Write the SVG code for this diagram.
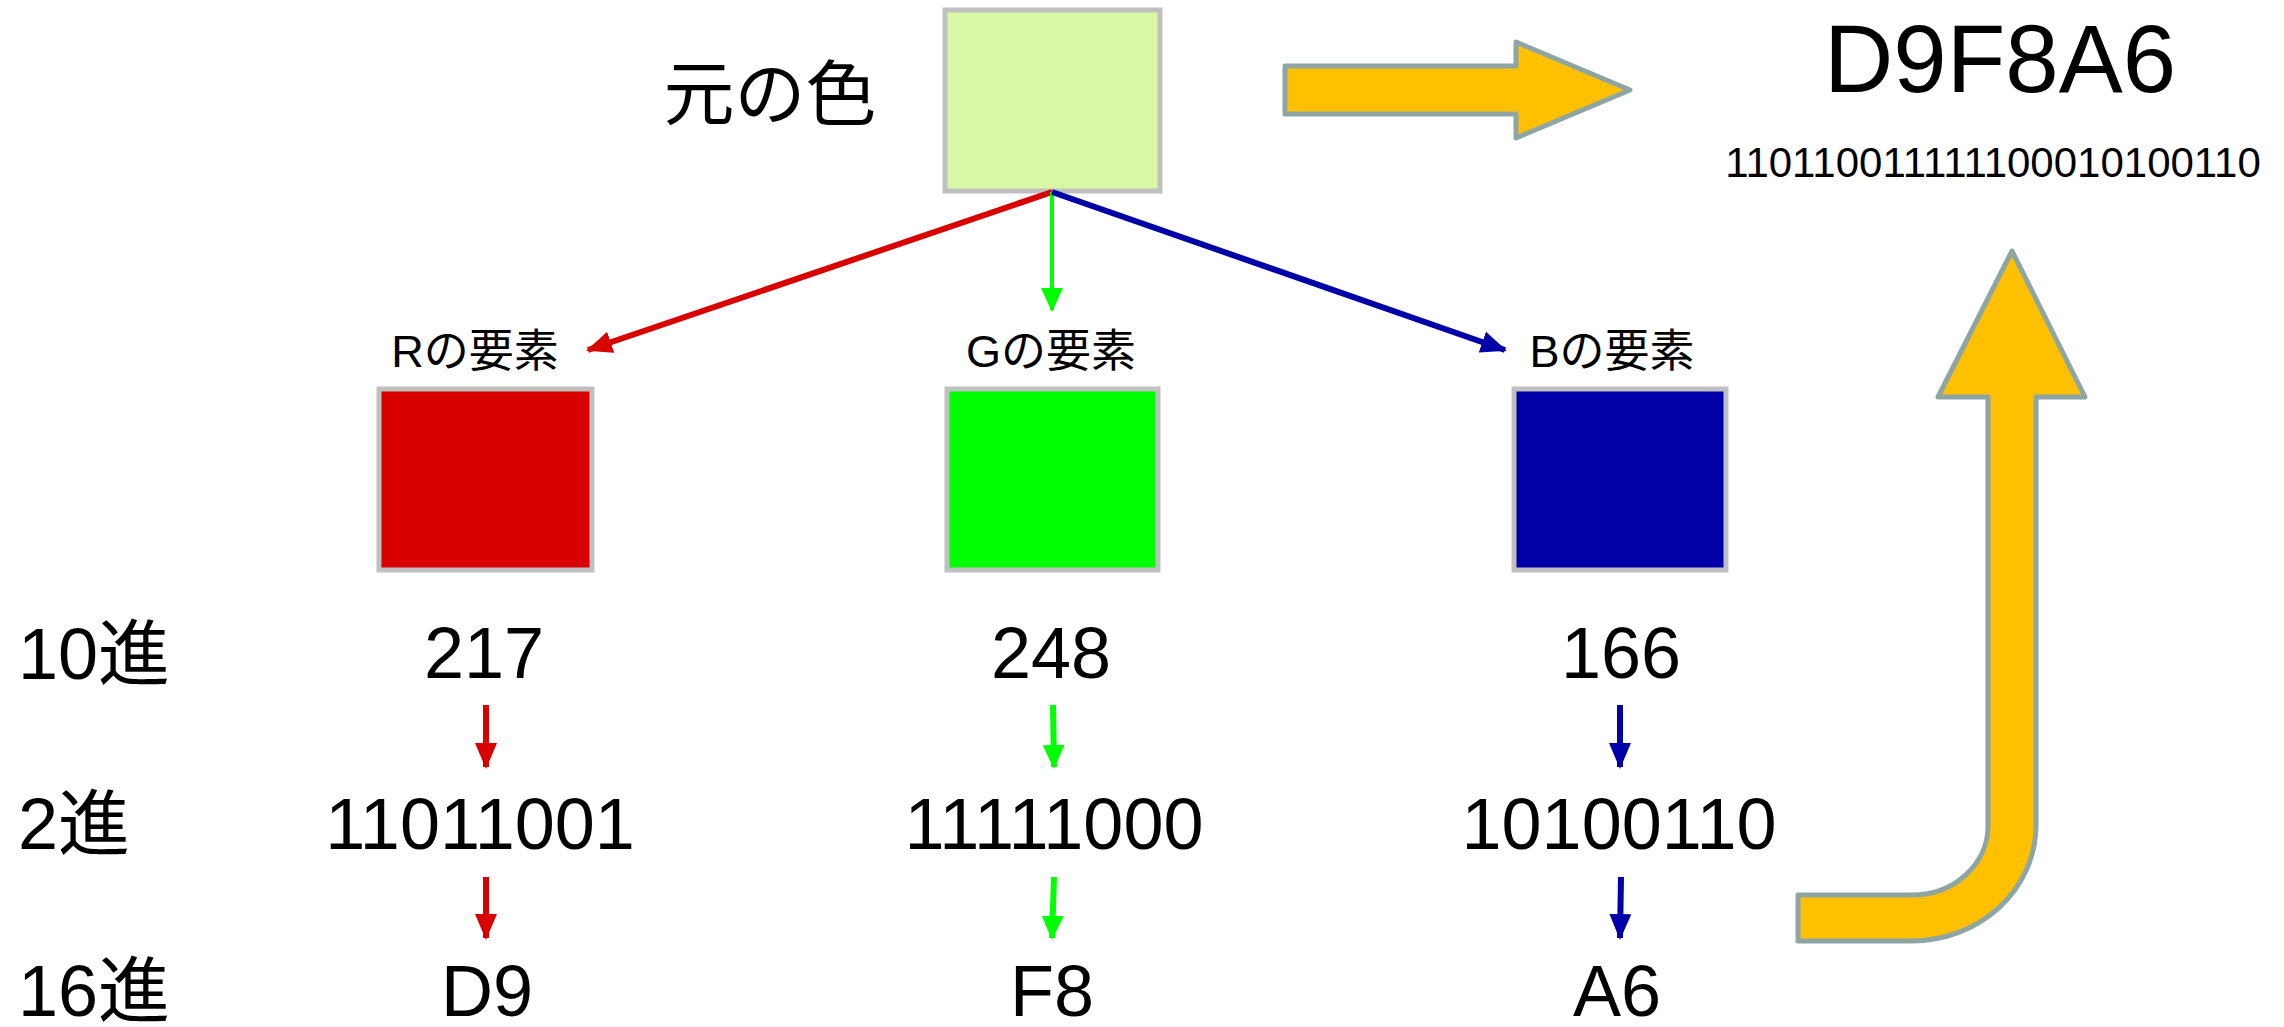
<svg xmlns="http://www.w3.org/2000/svg" width="2284" height="1027" viewBox="0 0 2284 1027">
<style>
text{font-family:"Liberation Sans","Noto Sans CJK JP",sans-serif;fill:#000}
.big{font-size:72px;text-anchor:middle}
.lab{font-size:45px;text-anchor:middle}
.row{font-size:72px}
.box{stroke:#c0c0c0;stroke-width:5}
.fat{fill:#FFC000;stroke:#8EA5A5;stroke-width:5;stroke-linejoin:round}
</style>
<defs>
<marker id="mr" markerUnits="userSpaceOnUse" markerWidth="26" markerHeight="22" refX="24" refY="11" orient="auto"><path d="M0,0 L26,11 L0,22 z" fill="#d90000"/></marker>
<marker id="mg" markerUnits="userSpaceOnUse" markerWidth="24" markerHeight="22" refX="22" refY="11" orient="auto"><path d="M0,0 L24,11 L0,22 z" fill="#00ff00"/></marker>
<marker id="mb" markerUnits="userSpaceOnUse" markerWidth="26" markerHeight="22" refX="24" refY="11" orient="auto"><path d="M0,0 L26,11 L0,22 z" fill="#0000a8"/></marker>
</defs>
<rect width="2284" height="1027" fill="#fff"/>
<g id="original">
<text x="770" y="119" style="font-size:71px;text-anchor:middle">元の色</text>
<rect class="box" x="945" y="10" width="215" height="181" fill="#D9F8A6"/>
</g>
<g id="arrow-right"><path class="fat" d="M1285,66 L1516,66 L1516,42 L1630,90 L1516,138 L1516,114 L1285,114 Z"/></g>
<g id="result">
<text x="2000" y="92" style="font-size:96px;text-anchor:middle">D9F8A6</text>
<text x="1993" y="177" style="font-size:42px;text-anchor:middle">110110011111100010100110</text>
</g>
<g id="arrow-up"><path class="fat" d="M1798,895 L1912,895 A76 69 0 0 0 1988,826 L1988,397 L1938,397 L2012,251 L2085,397 L2036,397 L2036,826 A124 116 0 0 1 1912,941 L1798,941 Z"/></g>
<g id="red">
<text class="lab" x="475" y="367">Rの要素</text>
<rect class="box" x="379" y="389" width="213" height="181" fill="#d90000"/>
</g>
<g id="green">
<text class="lab" x="1051" y="367">Gの要素</text>
<rect class="box" x="947" y="389" width="211" height="181" fill="#00ff00"/>
</g>
<g id="blue">
<text class="lab" x="1612" y="367">Bの要素</text>
<rect class="box" x="1514" y="389" width="212" height="181" fill="#0000a8"/>
</g>
<g id="rows">
<text class="row" x="18" y="679">10進</text>
<text class="row" x="18" y="849">2進</text>
<text class="row" x="18" y="1016">16進</text>
</g>
<g id="values">
<text class="big" x="484" y="678">217</text>
<text class="big" x="1051" y="678">248</text>
<text class="big" x="1621" y="678">166</text>
<text class="big" x="480" y="849">11011001</text>
<text class="big" x="1054" y="849">11111000</text>
<text class="big" x="1619" y="849">10100110</text>
<text class="big" x="487" y="1016">D9</text>
<text class="big" x="1052" y="1016">F8</text>
<text class="big" x="1617" y="1016">A6</text>
</g>
<g id="connectors" fill="none">
<line x1="1052" y1="192" x2="588" y2="350" stroke="#d90000" stroke-width="6" marker-end="url(#mr)"/>
<line x1="1052" y1="192" x2="1052" y2="310" stroke="#00ff00" stroke-width="4" marker-end="url(#mg)"/>
<line x1="1052" y1="192" x2="1505" y2="350" stroke="#0000a8" stroke-width="6" marker-end="url(#mb)"/>
<line x1="486" y1="705" x2="486" y2="767" stroke="#d90000" stroke-width="6" marker-end="url(#mr)"/>
<line x1="486" y1="877" x2="486" y2="938" stroke="#d90000" stroke-width="6" marker-end="url(#mr)"/>
<line x1="1053" y1="705" x2="1054" y2="767" stroke="#00ff00" stroke-width="6" marker-end="url(#mg)"/>
<line x1="1054" y1="877" x2="1052" y2="938" stroke="#00ff00" stroke-width="6" marker-end="url(#mg)"/>
<line x1="1620" y1="705" x2="1620" y2="767" stroke="#0000a8" stroke-width="6" marker-end="url(#mb)"/>
<line x1="1621" y1="877" x2="1620" y2="938" stroke="#0000a8" stroke-width="6" marker-end="url(#mb)"/>
</g>
</svg>
